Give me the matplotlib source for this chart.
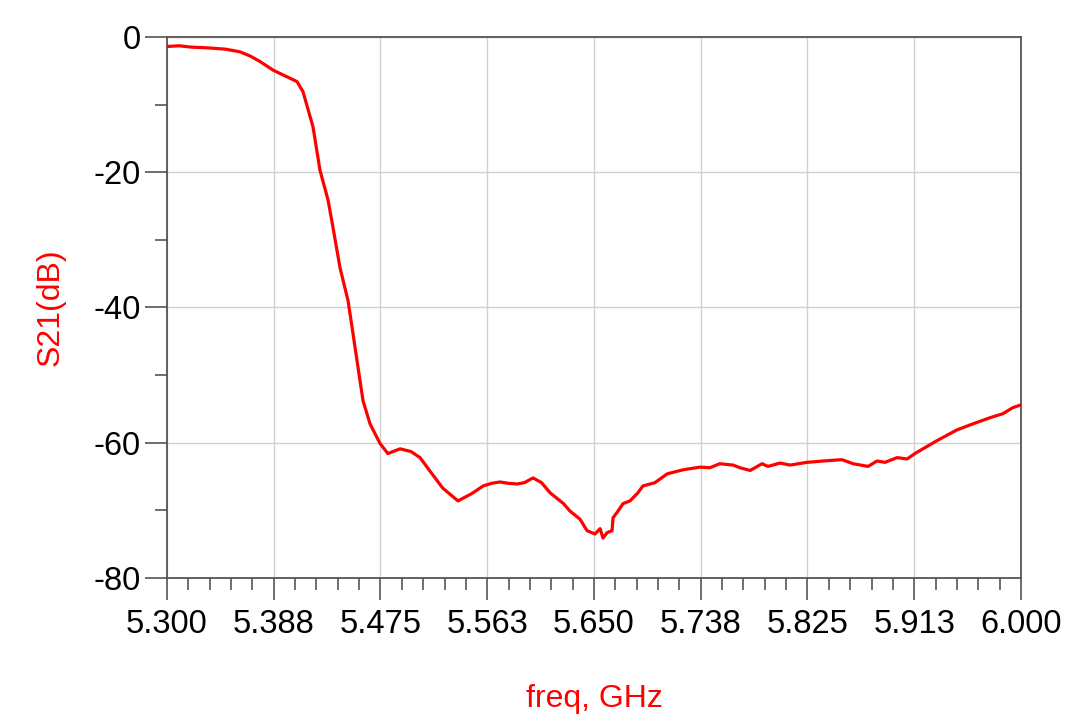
import matplotlib
matplotlib.use('Agg')
import matplotlib.pyplot as plt
import numpy as np
from matplotlib.ticker import FixedLocator

plt.rcParams['font.family'] = ['Liberation Sans', 'DejaVu Sans']
plt.rcParams['axes.unicode_minus'] = False

# S21 трасса (ГГц, дБ)
freq = [5.300, 5.310, 5.320, 5.333, 5.348, 5.360, 5.368, 5.376, 5.387, 5.395, 5.4066, 5.4115,
        5.4197, 5.4254, 5.432, 5.436, 5.4418, 5.4484, 5.4525, 5.4566, 5.4607,
        5.4664, 5.4746, 5.481, 5.491, 5.500, 5.5074, 5.516, 5.526, 5.5385,
        5.550, 5.559, 5.566, 5.573, 5.580, 5.587, 5.593, 5.600, 5.607, 5.614,
        5.625, 5.6303, 5.6385, 5.6443, 5.6508, 5.655, 5.6574, 5.6607, 5.6648,
        5.6656, 5.6697, 5.6738, 5.6795, 5.686, 5.690, 5.700, 5.710, 5.723,
        5.737, 5.745, 5.753, 5.764, 5.7697, 5.778, 5.7877, 5.7926, 5.8025,
        5.8107, 5.8246, 5.8377, 5.8533, 5.8623, 5.8746, 5.882, 5.8885, 5.8984,
        5.9066, 5.913, 5.931, 5.9475, 5.9607, 5.9746, 5.9852, 5.9934, 6.000]
s21 = [-1.4, -1.3, -1.5, -1.6, -1.8, -2.2, -2.8, -3.6, -4.9, -5.6, -6.6, -8.1,
       -13.3, -19.7, -24.1, -28.1, -34.1, -39.0, -43.9, -48.9, -53.8,
       -57.2, -60.1, -61.6, -60.9, -61.3, -62.2, -64.3, -66.7, -68.6,
       -67.5, -66.4, -66.0, -65.8, -66.0, -66.1, -65.9, -65.2, -65.9, -67.4,
       -69.0, -70.1, -71.3, -73.0, -73.5, -72.7, -74.1, -73.3, -73.0,
       -71.1, -70.1, -69.0, -68.6, -67.4, -66.4, -65.9, -64.6, -64.0,
       -63.6, -63.7, -63.1, -63.3, -63.7, -64.1, -63.1, -63.5, -63.0,
       -63.3, -62.9, -62.7, -62.5, -63.1, -63.5, -62.7, -62.9, -62.2,
       -62.4, -61.6, -59.7, -58.1, -57.2, -56.3, -55.7, -54.8, -54.4]

x_ticks = [5.300, 5.3875, 5.475, 5.5625, 5.650, 5.7375, 5.825, 5.9125, 6.000]
x_labels = ['5.300', '5.388', '5.475', '5.563', '5.650', '5.738', '5.825', '5.913', '6.000']
y_ticks = [0, -20, -40, -60, -80]

fig = plt.figure(figsize=(10.8, 7.16), dpi=100, facecolor='white')
ax = fig.add_axes([167/1080, 1 - 578/716, 854/1080, 541/716])

ax.plot(freq, s21, color='#ff0000', linewidth=2.3, zorder=3)

ax.set_xlim(5.3, 6.0)
ax.set_ylim(-80, 0)
ax.set_xticks(x_ticks)
ax.set_xticklabels(x_labels)
ax.set_yticks(y_ticks)
# 4 малых деления между большими
ax.xaxis.set_minor_locator(FixedLocator(5.3 + 0.0175 * np.arange(41)))
ax.yaxis.set_minor_locator(FixedLocator([-10, -30, -50, -70]))

ax.grid(True, which='major', color='#d0d0d0', linewidth=1.0, zorder=0)
for s in ax.spines.values():
    s.set_color('#555555')
    s.set_linewidth(1.3)

ax.tick_params(which='major', direction='out', length=16, width=1.2, color='#555555',
               labelsize=23.5, pad=6)
ax.tick_params(axis='y', which='major', pad=3)
ax.tick_params(which='minor', direction='out', length=8.5, width=1.2, color='#555555')

ax.set_xlabel('freq, GHz', color='#ff0000', fontsize=23)
ax.set_ylabel('S21(dB)', color='#ff0000', fontsize=23)
ax.xaxis.set_label_coords(0.5, -0.196)
ax.yaxis.set_label_coords(-0.119, 0.5)

plt.savefig('out.png', dpi=100, facecolor='white')
